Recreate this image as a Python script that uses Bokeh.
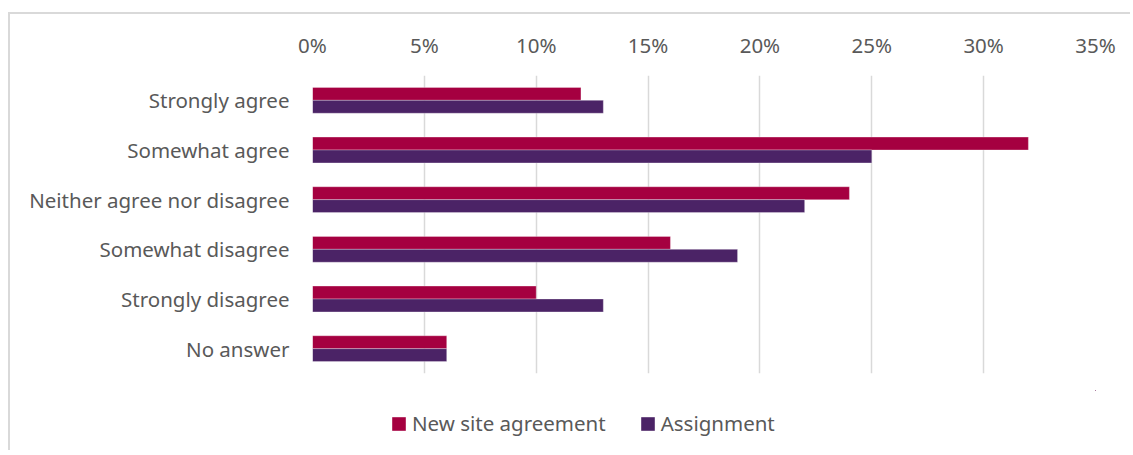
from bokeh.plotting import figure
from bokeh.layouts import column
from bokeh.models import (FactorRange, Range1d, SingleIntervalTicker, PrintfTickFormatter,
                          Legend, LegendItem, ColumnDataSource)
from bokeh.transform import dodge
from bokeh.embed import file_html
from bokeh.resources import INLINE

categories = ["Strongly agree", "Somewhat agree", "Neither agree nor disagree",
              "Somewhat disagree", "Strongly disagree", "No answer"]
new_site = [12, 32, 24, 16, 10, 6]
assignment = [13, 25, 22, 19, 13, 6]
series_names = ["New site agreement", "Assignment"]
colors = ["#A50040", "#4B2366"]

FONT = "Noto Sans"
TXT = "#595959"
FS = "20.5px"

src = ColumnDataSource(dict(cat=categories, new_site=new_site, assignment=assignment))

p = figure(width=1120, height=376, output_backend="svg", toolbar_location=None,
           y_range=FactorRange(factors=list(reversed(categories)), range_padding=0),
           x_range=Range1d(0, 35), x_axis_location="above",
           min_border_left=302, min_border_right=35, min_border_top=61, min_border_bottom=17)
p.outline_line_color = None

bar_kw = dict(left=0, height=0.26, source=src, line_color="white", line_alpha=0.3, line_width=1)
r1 = p.hbar(y=dodge("cat", 0.13, range=p.y_range), right="new_site", fill_color=colors[0], **bar_kw)
r2 = p.hbar(y=dodge("cat", -0.13, range=p.y_range), right="assignment", fill_color=colors[1], **bar_kw)

p.xaxis.ticker = SingleIntervalTicker(interval=5)
p.xaxis.formatter = PrintfTickFormatter(format="%d%%")
for ax in (p.xaxis[0], p.yaxis[0]):
    ax.axis_line_color = None
    ax.major_tick_line_color = None
    ax.minor_tick_line_color = None
    ax.major_label_text_font = FONT
    ax.major_label_text_font_size = FS
    ax.major_label_text_color = TXT
p.xaxis.major_label_standoff = 11
p.yaxis.major_label_standoff = 17

p.xgrid.grid_line_color = "#d9d9d9"
p.xgrid.grid_line_width = 1.5
p.ygrid.grid_line_color = None

# legend strip (its bars lie far outside its visible ranges; only the legend shows)
lg = figure(width=1120, height=60, output_backend="svg", toolbar_location=None,
            x_axis_type=None, y_axis_type=None, min_border=0,
            x_range=Range1d(-1000, -999), y_range=FactorRange(factors=categories))
lg.outline_line_color = None
lg.xgrid.grid_line_color = None
lg.ygrid.grid_line_color = None
e1 = lg.hbar(y=dodge("cat", 50, range=lg.y_range), right="new_site", left=0, height=0.5,
             source=src, fill_color=colors[0], line_color=None)
e2 = lg.hbar(y=dodge("cat", 50, range=lg.y_range), right="assignment", left=0, height=0.5,
             source=src, fill_color=colors[1], line_color=None)
legend = Legend(items=[LegendItem(label=series_names[0], renderers=[e1]),
                       LegendItem(label=series_names[1], renderers=[e2])],
                orientation="horizontal", location=(78, 13),
                label_text_font=FONT, label_text_font_size=FS, label_text_color=TXT,
                glyph_width=17, glyph_height=17, spacing=33, label_standoff=5,
                border_line_color=None, background_fill_alpha=0, padding=0, margin=0)
lg.add_layout(legend, "center")

layout = column(p, lg, spacing=0)
layout.margin = (12, 0, 0, 8)
layout.styles = {"border-left": "2px solid #d9d9d9", "border-top": "2px solid #d9d9d9"}

open("out.html", "w").write(file_html(layout, INLINE))
